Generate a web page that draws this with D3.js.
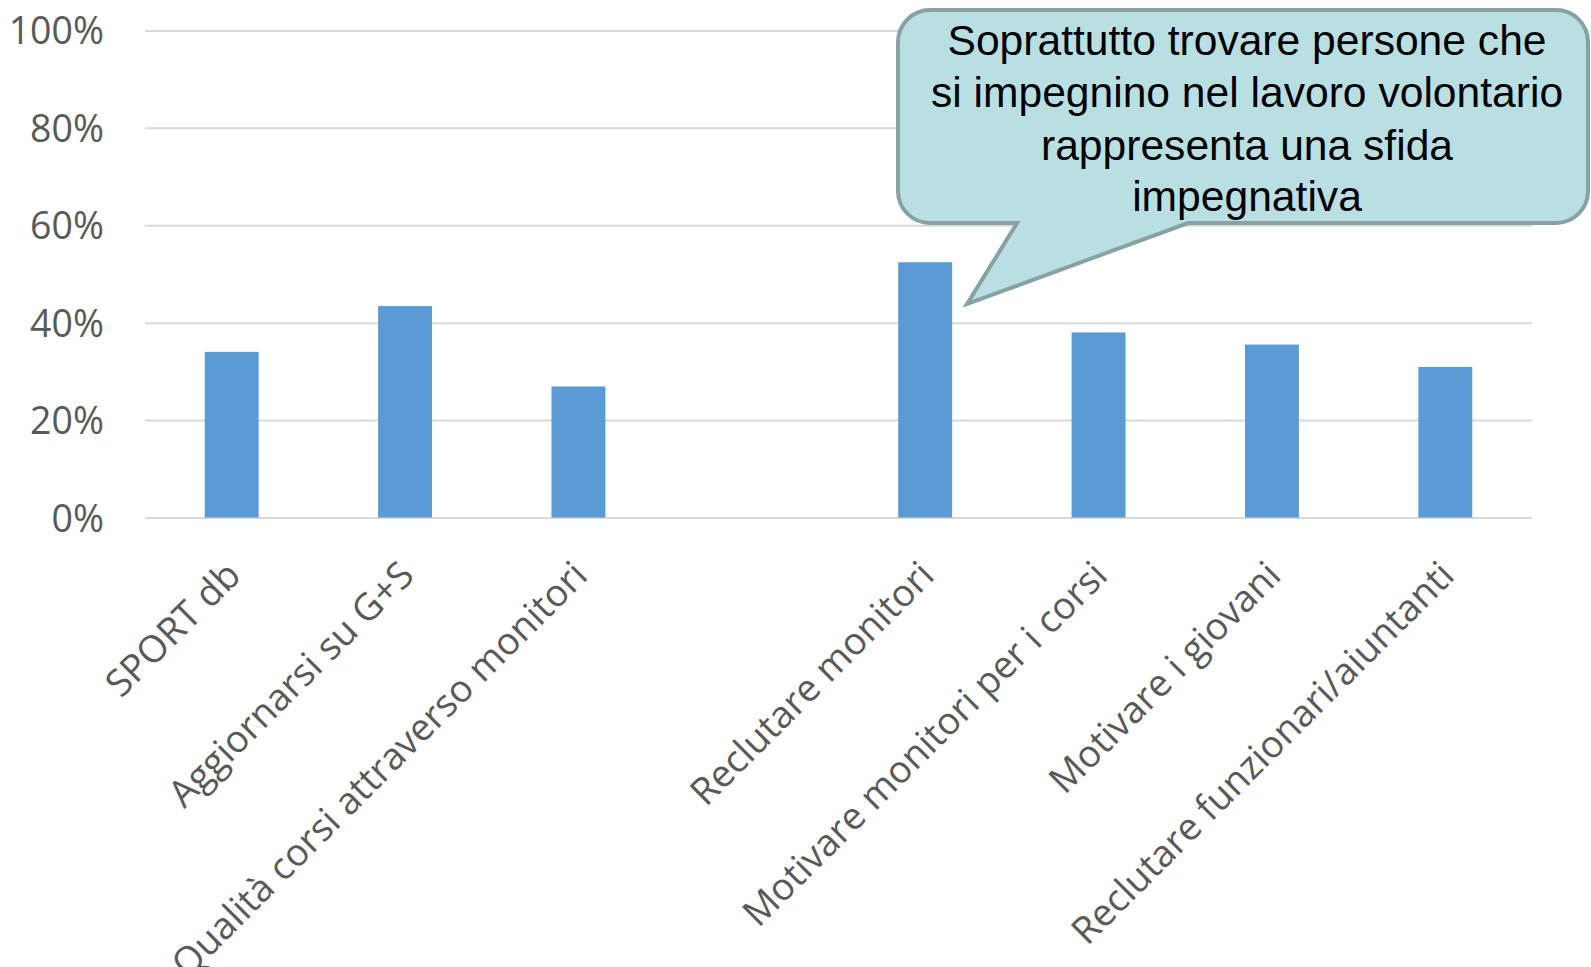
<!DOCTYPE html>
<html>
<head>
<meta charset="utf-8">
<script src="https://cdn.jsdelivr.net/npm/d3@7"></script>
<style>
  html, body { margin: 0; padding: 0; background: #ffffff; }
  svg { display: block; }
</style>
</head>
<body>
<svg id="chart" width="1591" height="967"></svg>
<script>
// ---- data ----
const categories = [
  "SPORT db",
  "Aggiornarsi su G+S",
  "Qualità corsi attraverso monitori",
  "",
  "Reclutare monitori",
  "Motivare monitori per i corsi",
  "Motivare i giovani",
  "Reclutare funzionari/aiuntanti"
];
const values = [0.340, 0.434, 0.269, null, 0.524, 0.380, 0.355, 0.309];
const yTicks = [0, 0.2, 0.4, 0.6, 0.8, 1.0];
const calloutLines = [
  "Soprattutto trovare persone che",
  "si impegnino nel lavoro volontario",
  "rappresenta una sfida",
  "impegnativa"
];

// ---- layout ----
const W = 1591, H = 967;
const plot = { left: 145, right: 1532, top: 30.4, bottom: 517.5 };
const svg = d3.select("#chart");

const x = d3.scaleBand()
  .domain(categories)
  .range([plot.left, plot.right])
  .paddingInner(0.689)
  .paddingOuter(0.3445);

const y = d3.scaleLinear().domain([0, 1]).range([plot.bottom, plot.top]);

// gridlines
const grid = svg.append("g")
  .attr("transform", `translate(${plot.left},0)`)
  .call(d3.axisLeft(y).tickValues(yTicks).tickSize(-(plot.right - plot.left)).tickFormat(""));
grid.select(".domain").remove();
grid.selectAll(".tick line").attr("stroke", "#d9d9d9").attr("stroke-width", 2);

// y axis labels
const yAxis = svg.append("g")
  .attr("transform", `translate(104,0)`)
  .call(d3.axisLeft(y).tickValues(yTicks).tickSize(0).tickPadding(0).tickFormat(d3.format(".0%")));
yAxis.select(".domain").remove();
yAxis.selectAll("text")
  .attr("font-family", "'Open Sans', sans-serif")
  .attr("font-size", 37.5)
  .attr("fill", "#595959")
  .attr("dy", "0.36em");

// bars
svg.append("g").selectAll("rect")
  .data(categories.map((c, i) => ({ c, v: values[i] })).filter(d => d.v != null))
  .join("rect")
  .attr("x", d => x(d.c))
  .attr("width", x.bandwidth())
  .attr("y", d => y(d.v))
  .attr("height", d => y(0) - y(d.v))
  .attr("fill", "#5b9bd5");

// x axis labels (rotated)
const xAxis = svg.append("g")
  .attr("transform", `translate(0,${plot.bottom})`)
  .call(d3.axisBottom(x).tickSize(0).tickPadding(0));
xAxis.select(".domain").remove();
xAxis.selectAll(".tick text")
  .attr("font-family", "'Open Sans', sans-serif")
  .attr("font-size", 37.5)
  .attr("fill", "#595959")
  .attr("text-anchor", "end")
  .attr("y", 0)
  .attr("dy", 0)
  .attr("transform", "translate(11,60) rotate(-45)");

// ---- callout ----
const box = { l: 898, r: 1588, t: 10, b: 223, rad: 32 };
const tipTarget = "Reclutare monitori";
const tip = { x: x(tipTarget) + x.bandwidth() + 15, y: 304 };
const base = { a: 1017, b: 1188 };
const p = d3.path();
p.moveTo(box.l + box.rad, box.t);
p.lineTo(box.r - box.rad, box.t);
p.arcTo(box.r, box.t, box.r, box.t + box.rad, box.rad);
p.lineTo(box.r, box.b - box.rad);
p.arcTo(box.r, box.b, box.r - box.rad, box.b, box.rad);
p.lineTo(base.b, box.b);
p.lineTo(tip.x, tip.y);
p.lineTo(base.a, box.b);
p.lineTo(box.l + box.rad, box.b);
p.arcTo(box.l, box.b, box.l, box.b - box.rad, box.rad);
p.lineTo(box.l, box.t + box.rad);
p.arcTo(box.l, box.t, box.l + box.rad, box.t, box.rad);
p.closePath();
svg.append("path")
  .attr("d", p.toString())
  .attr("fill", "#b9dfe3")
  .attr("stroke", "#87a2a3")
  .attr("stroke-width", 4)
  .attr("stroke-linejoin", "miter");

const lineBaselines = [55, 107, 160, 211];
svg.append("g").selectAll("text")
  .data(calloutLines)
  .join("text")
  .attr("x", 1247)
  .attr("y", (d, i) => lineBaselines[i])
  .attr("text-anchor", "middle")
  .attr("font-family", "'Liberation Sans', Arial, sans-serif")
  .attr("font-size", 42.6)
  .attr("fill", "#000000")
  .text(d => d);
</script>
</body>
</html>
